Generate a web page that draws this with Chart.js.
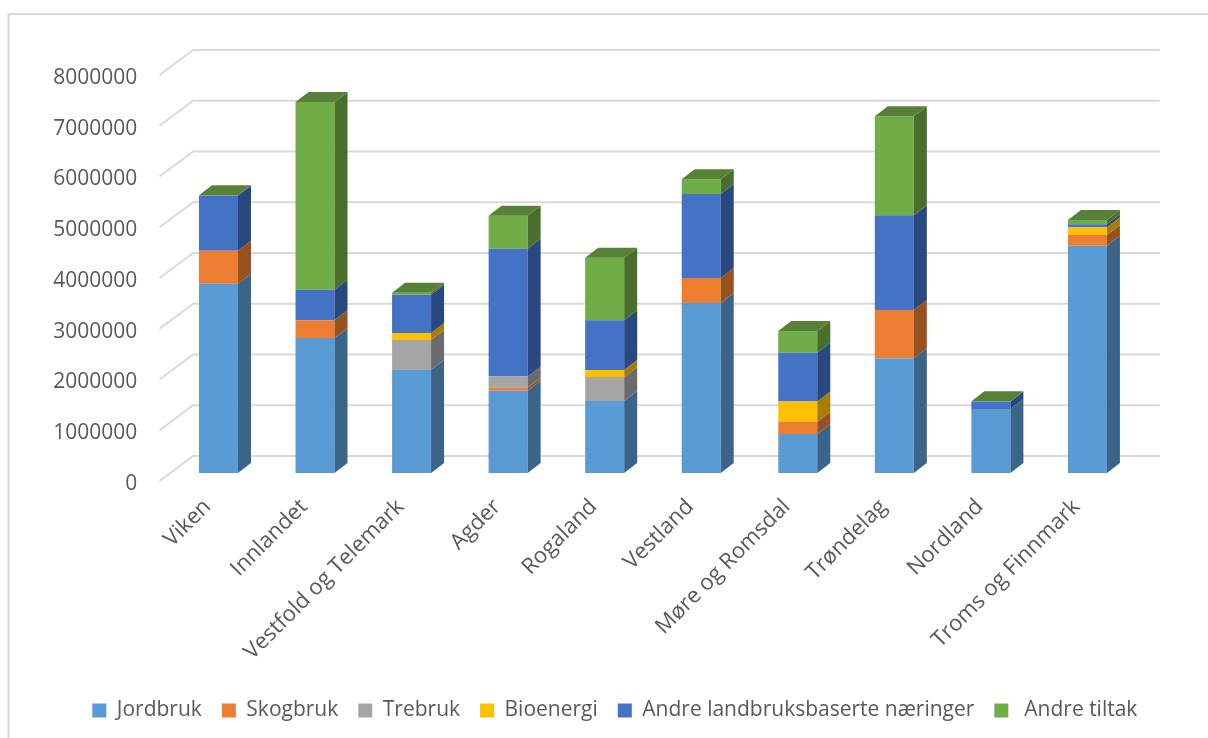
<!DOCTYPE html>
<html>
<head>
<meta charset="utf-8">
<script src="https://cdn.jsdelivr.net/npm/chart.js@4"></script>
<style>
html, body { margin: 0; padding: 0; background: #fff; }
canvas { display: block; }
</style>
</head>
<body>
<canvas id="chart" width="1208" height="738"></canvas>
<script>
var categories = ["Viken", "Innlandet", "Vestfold og Telemark", "Agder", "Rogaland", "Vestland", "Møre og Romsdal", "Trøndelag", "Nordland", "Troms og Finnmark"];
var jordbruk = [3730000, 2660000, 2030000, 1620000, 1420000, 3350000, 770000, 2260000, 1260000, 4480000];
var skogbruk = [650000, 350000, 0, 60000, 0, 490000, 240000, 950000, 0, 210000];
var trebruk = [0, 0, 590000, 220000, 470000, 0, 0, 0, 0, 0];
var bioenergi = [0, 0, 140000, 0, 140000, 0, 400000, 0, 0, 150000];
var andreNaeringer = [1090000, 600000, 750000, 2520000, 980000, 1660000, 960000, 1870000, 150000, 60000];
var andreTiltak = [5000, 3700000, 40000, 650000, 1230000, 290000, 430000, 1950000, 5000, 85000];
var yTicks = [0, 1000000, 2000000, 3000000, 4000000, 5000000, 6000000, 7000000, 8000000];

var textColor = "#595959";
var fontName = "'Open Sans'";

function dataset(label, data, front, side) {
    return { label: label, data: data, backgroundColor: front, sideColor: side, borderWidth: 0 };
}

// back wall, the lines running to the front, and the outer frame
var wallPlugin = {
    id: "wall",
    afterLayout: function(chart) {
        // legend is centred on the whole picture, not on the plot
        chart.legend.left += 47;
        chart.legend.right += 47;
    },
    beforeDatasetsDraw: function(chart) {
        var ctx = chart.ctx, area = chart.chartArea, y = chart.scales.y;
        ctx.save();
        ctx.strokeStyle = "#d9d9d9";
        ctx.lineWidth = 2;
        ctx.beginPath();
        ctx.moveTo(8.5, 738);
        ctx.lineTo(8.5, 14);
        ctx.lineTo(1208, 14);
        ctx.stroke();
        yTicks.forEach(function(t) {
            var py = y.getPixelForValue(t);
            ctx.beginPath();
            ctx.moveTo(area.left - 10.7, py + 8);
            ctx.lineTo(area.left + 23, py - 17);
            ctx.lineTo(area.right + 24, py - 17);
            ctx.stroke();
        });
        ctx.restore();
    },
    afterDatasetsDraw: function(chart) {
        var ctx = chart.ctx, dx = 13, dy = -10;
        var topIdx = chart.data.datasets.length - 1;
        ctx.save();
        chart.data.datasets.forEach(function(ds, d) {
            chart.getDatasetMeta(d).data.forEach(function(bar, i) {
                if (!ds.data[i]) return;
                var right = bar.x + bar.width / 2, left = bar.x - bar.width / 2;
                ctx.fillStyle = ds.sideColor;
                ctx.beginPath();
                ctx.moveTo(right, bar.base);
                ctx.lineTo(right + dx, bar.base + dy);
                ctx.lineTo(right + dx, bar.y + dy);
                ctx.lineTo(right, bar.y);
                ctx.closePath();
                ctx.fill();
                if (d === topIdx) {
                    ctx.fillStyle = "#578136";
                    ctx.beginPath();
                    ctx.moveTo(left, bar.y);
                    ctx.lineTo(left + dx, bar.y + dy);
                    ctx.lineTo(right + dx, bar.y + dy);
                    ctx.lineTo(right, bar.y);
                    ctx.closePath();
                    ctx.fill();
                }
            });
        });
        ctx.restore();
    }
};

new Chart(document.getElementById("chart"), {
    type: "bar",
    data: {
        labels: categories,
        datasets: [
            dataset("Jordbruk", jordbruk, "#5b9bd5", "#3a6588"),
            dataset("Skogbruk", skogbruk, "#ed7d31", "#97531f"),
            dataset("Trebruk", trebruk, "#a5a5a5", "#6b6b6b"),
            dataset("Bioenergi", bioenergi, "#ffc000", "#a67d00"),
            dataset("Andre landbruksbaserte næringer", andreNaeringer, "#4472c4", "#2a4880"),
            dataset(" Andre tiltak", andreTiltak, "#70ad47", "#4a6e2c")
        ]
    },
    plugins: [wallPlugin],
    options: {
        responsive: false,
        animation: false,
        devicePixelRatio: 1,
        layout: { padding: { top: 67, right: 72.3, left: 0, bottom: 7 } },
        datasets: { bar: { barPercentage: 0.404, categoryPercentage: 1 } },
        plugins: {
            tooltip: { enabled: false },
            title: { display: false },
            legend: {
                position: "bottom",
                labels: {
                    boxWidth: 14,
                    boxHeight: 14,
                    padding: 20,
                    color: textColor,
                    font: { family: fontName, size: 21 }
                }
            }
        },
        scales: {
            x: {
                stacked: true,
                grid: { display: false },
                border: { display: false },
                afterFit: function(scale) { scale.height = 207; },
                ticks: {
                    color: textColor,
                    font: { family: fontName, size: 22 },
                    minRotation: 45,
                    maxRotation: 45,
                    autoSkip: false,
                    labelOffset: -11,
                    padding: 13
                }
            },
            y: {
                stacked: true,
                min: 0,
                max: 8000000,
                grid: { display: false },
                border: { display: false },
                afterFit: function(scale) { scale.width = 170.2; },
                afterBuildTicks: function(scale) {
                    scale.ticks = yTicks.map(function(v) { return { value: v }; });
                },
                ticks: {
                    color: textColor,
                    font: { family: fontName, size: 21 },
                    labelOffset: 11,
                    padding: 25,
                    callback: function(v) { return String(v); }
                }
            }
        }
    }
});
</script>
</body>
</html>
